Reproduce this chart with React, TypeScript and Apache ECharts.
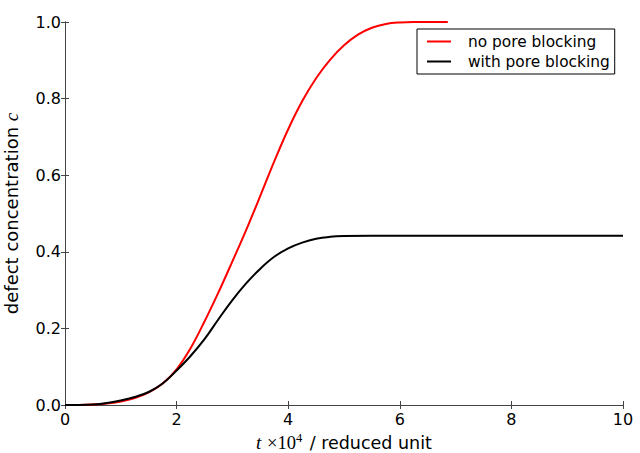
import React, { useEffect, useRef } from 'react';
import * as echarts from 'echarts';

const seriesNames = ['no pore blocking', 'with pore blocking'];

const tRed = [0, 0.25, 0.5, 0.75, 1.0, 1.25, 1.5, 1.75, 2.0, 2.25, 2.5, 2.75, 3.0, 3.25, 3.5, 3.75, 4.0, 4.25, 4.5, 4.75, 5.0, 5.25, 5.5, 5.75, 6.0, 6.25, 6.5, 6.86];
const cRed = [0, 0, 0.001, 0.004, 0.009, 0.018, 0.033, 0.056, 0.093, 0.148, 0.218, 0.294, 0.375, 0.458, 0.546, 0.636, 0.72, 0.793, 0.853, 0.901, 0.939, 0.967, 0.985, 0.995, 0.999, 1.0, 1.0, 1.0];

const tBlack = [0, 0.25, 0.5, 0.75, 1.0, 1.25, 1.5, 1.75, 2.0, 2.25, 2.5, 2.75, 3.0, 3.25, 3.5, 3.75, 4.0, 4.25, 4.5, 4.75, 5.0, 5.5, 6, 7, 8, 9, 10];
const cBlack = [0, 0, 0.001, 0.005, 0.012, 0.021, 0.034, 0.056, 0.09, 0.128, 0.172, 0.224, 0.274, 0.318, 0.356, 0.387, 0.409, 0.424, 0.434, 0.439, 0.441, 0.442, 0.442, 0.442, 0.442, 0.442, 0.442];

const xMin = 0, xMax = 10, xStep = 2;
const yMin = 0, yMax = 1, yStep = 0.2;

export default function App() {
  const ref = useRef<HTMLDivElement>(null);
  useEffect(() => {
    const chart = echarts.init(ref.current!, null, { renderer: 'svg' });
    const frame = '#444';
    const font = 'DejaVu Sans';
    const tickFont = 16;
    const labelFont = 17.5;
    const lineCommon = { show: true, lineStyle: { color: frame, width: 1 } };
    const tickCommon = { show: true, inside: true, length: 4, lineStyle: { color: frame, width: 1 } };
    const labelCommon = { color: '#000', fontFamily: font, fontSize: tickFont };
    chart.setOption({
      animation: false,
      backgroundColor: '#fff',
      grid: { left: 65, right: 17, top: 22, bottom: 48, containLabel: false, outerBoundsMode: 'none' },
      legend: {
        data: seriesNames,
        orient: 'vertical',
        left: 417,
        top: 29,
        padding: [5, 5, 5, 10],
        itemGap: 5,
        itemWidth: 24,
        itemHeight: 2,
        icon: 'rect',
        borderColor: '#000',
        borderWidth: 1,
        borderRadius: 0,
        backgroundColor: '#fff',
        formatter: (name: string) => `{a|${name}}`,
        textStyle: {
          rich: {
            a: { fontFamily: font, fontSize: 15.4, color: '#000', padding: [0, 0, 0, 12], lineHeight: 18 },
          },
        },
      },
      xAxis: [
        {
          type: 'value', position: 'bottom', min: xMin, max: xMax, interval: xStep,
          axisLine: lineCommon, axisTick: tickCommon, splitLine: { show: false },
          axisLabel: { ...labelCommon, margin: 6 },
          name: '{it|t} {x|×10}{sup|4} / reduced unit',
          nameLocation: 'middle',
          nameGap: 24,
          nameTextStyle: {
            fontFamily: font, fontSize: labelFont, color: '#000',
            rich: {
              it: { fontFamily: 'Liberation Serif', fontStyle: 'italic', fontSize: 19, color: '#000' },
              x: { fontFamily: 'Liberation Serif', fontSize: 18.5, color: '#000' },
              sup: { fontFamily: 'Liberation Serif', fontSize: 12.5, color: '#000', padding: [0, 2, 9, 0] },
            },
          },
        },
        {
          type: 'value', position: 'top', min: xMin, max: xMax, interval: xStep,
          axisLine: lineCommon, axisTick: tickCommon, splitLine: { show: false },
          axisLabel: { show: false },
        },
      ],
      yAxis: [
        {
          type: 'value', position: 'left', min: yMin, max: yMax, interval: yStep,
          axisLine: lineCommon, axisTick: tickCommon, splitLine: { show: false },
          axisLabel: { ...labelCommon, margin: 4, formatter: (v: number) => v.toFixed(1) },
          name: 'defect concentration {it|c}',
          nameLocation: 'middle',
          nameRotate: 90,
          nameGap: 44,
          nameTextStyle: {
            fontFamily: font, fontSize: 18, color: '#000',
            rich: {
              it: { fontFamily: 'Liberation Serif', fontStyle: 'italic', fontSize: 19, color: '#000' },
            },
          },
        },
        {
          type: 'value', position: 'right', min: yMin, max: yMax, interval: yStep,
          axisLine: lineCommon, axisTick: tickCommon, splitLine: { show: false },
          axisLabel: { show: false },
        },
      ],
      series: [
        {
          name: seriesNames[0], type: 'line', xAxisIndex: 0, yAxisIndex: 0,
          data: tRed.map((t, i) => [t, cRed[i]]),
          showSymbol: false, symbol: 'none', smooth: 0.4,
          lineStyle: { color: '#ff0000', width: 2 }, itemStyle: { color: '#ff0000' },
          z: 2,
        },
        {
          name: seriesNames[1], type: 'line', xAxisIndex: 0, yAxisIndex: 0,
          data: tBlack.map((t, i) => [t, cBlack[i]]),
          showSymbol: false, symbol: 'none', smooth: 0.4,
          lineStyle: { color: '#000000', width: 2 }, itemStyle: { color: '#000000' },
          z: 3,
        },
      ],
    });
    return () => chart.dispose();
  }, []);
  return <div ref={ref} style={{ position: 'fixed', left: 0, top: 0, width: 640, height: 453 }} />;
}
